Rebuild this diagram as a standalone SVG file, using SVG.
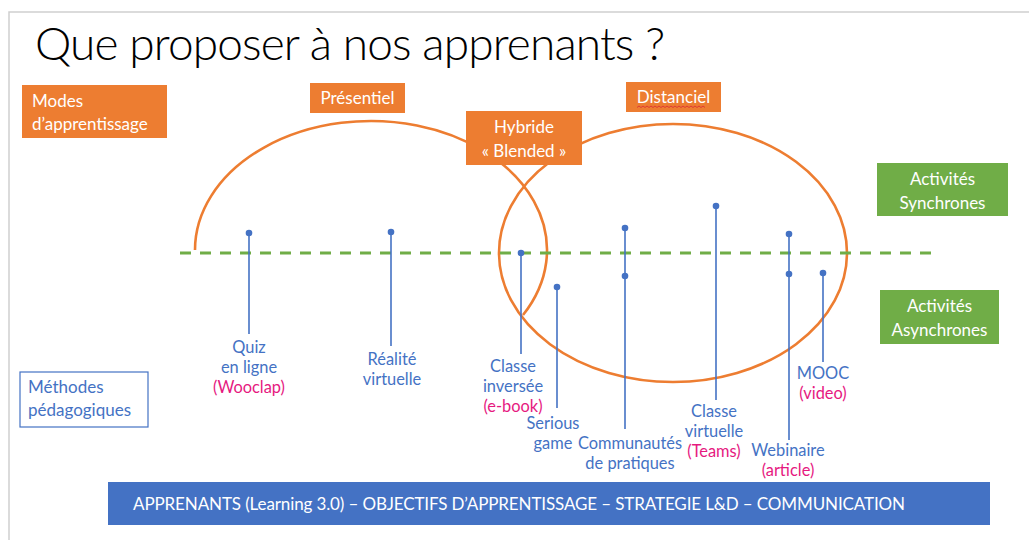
<svg xmlns="http://www.w3.org/2000/svg" width="1029" height="540" viewBox="0 0 1029 540">
  <style>
    text { font-family: Lato, "Liberation Sans", sans-serif; }
    .title { font-size: 46px; font-weight: 300; fill: #000; }
    .wbox { font-size: 17px; fill: #fff; }
    .org { fill: #ED7D31; }
    .grn { fill: #70AD47; }
    .lbl { font-size: 16.4px; fill: #4472C4; text-anchor: middle; }
    .pink { fill: #E6197F; }
    .pin { stroke: #4472C4; stroke-width: 1.6; fill: none; }
    .dot { fill: #4472C4; }
    .ell { stroke: #ED7D31; stroke-width: 2.6; fill: none; }
  </style>

  <rect x="0" y="0" width="1029" height="540" fill="#fff"/>
  <!-- slide frame -->
  <path d="M9 540 V12 H1029" fill="none" stroke="#cfcfcf" stroke-width="1.5"/>

  <text class="title" x="35" y="60" textLength="630">Que proposer à nos apprenants ?</text>

  <!-- ellipses -->
  <g id="ellipses">
    <path class="ell" d="M195 250 A176 129 0 1 1 523 315"/>
    <ellipse class="ell" cx="673" cy="253" rx="174" ry="129"/>
  </g>

  <!-- dashed sync/async boundary -->
  <line x1="180" y1="253" x2="940" y2="253" stroke="#70AD47" stroke-width="3" stroke-dasharray="11 9"/>

  <g id="modes">
    <rect class="org" x="22" y="85" width="145" height="53"/>
    <text class="wbox" x="32" y="107">Modes</text>
    <text class="wbox" x="32" y="130">d’apprentissage</text>
  </g>

  <g id="presentiel">
    <rect class="org" x="310" y="83" width="95" height="30"/>
    <text class="wbox" x="357.5" y="104" text-anchor="middle">Présentiel</text>
  </g>

  <g id="distanciel">
    <rect class="org" x="626" y="82" width="95" height="30"/>
    <text class="wbox" x="673.5" y="103" text-anchor="middle">Distanciel</text>
    <path d="M637 107.5 l2 -1.5 l2 1.5 l2 -1.5 l2 1.5 l2 -1.5 l2 1.5 l2 -1.5 l2 1.5 l2 -1.5 l2 1.5 l2 -1.5 l2 1.5 l2 -1.5 l2 1.5 l2 -1.5 l2 1.5 l2 -1.5 l2 1.5 l2 -1.5 l2 1.5 l2 -1.5 l2 1.5 l2 -1.5 l2 1.5 l2 -1.5 l2 1.5 l2 -1.5 l2 1.5 l2 -1.5 l2 1.5 l2 -1.5 l2 1.5 l2 -1.5 l2 1.5" fill="none" stroke="#d33" stroke-width="0.9"/>
  </g>

  <g id="hybride">
    <rect class="org" x="466" y="111" width="116" height="54"/>
    <text class="wbox" x="524" y="133" text-anchor="middle">Hybride</text>
    <text class="wbox" x="524" y="157" text-anchor="middle">« Blended »</text>
  </g>

  <g id="synchrones">
    <rect class="grn" x="877" y="163" width="131" height="53"/>
    <text class="wbox" x="942.5" y="185" text-anchor="middle">Activités</text>
    <text class="wbox" x="942.5" y="209" text-anchor="middle">Synchrones</text>
  </g>

  <g id="asynchrones">
    <rect class="grn" x="880" y="290" width="119" height="54"/>
    <text class="wbox" x="939.5" y="312" text-anchor="middle">Activités</text>
    <text class="wbox" x="939.5" y="336" text-anchor="middle">Asynchrones</text>
  </g>

  <g id="methodes">
    <rect x="20" y="372" width="128" height="55" fill="#fff" stroke="#4472C4" stroke-width="1.2"/>
    <text x="28" y="393" style="font-size:17px;fill:#4472C4">Méthodes</text>
    <text x="28" y="416" style="font-size:17px;fill:#4472C4">pédagogiques</text>
  </g>

  <!-- pins (connectors) -->
  <g id="connectors">
    <line class="pin" x1="249" y1="233" x2="249" y2="334"/>
    <line class="pin" x1="391" y1="232" x2="391" y2="346"/>
    <line class="pin" x1="521" y1="253" x2="521" y2="354"/>
    <line class="pin" x1="557" y1="287" x2="557" y2="408"/>
    <line class="pin" x1="625" y1="228" x2="625" y2="429"/>
    <line class="pin" x1="716" y1="206" x2="716" y2="400"/>
    <line class="pin" x1="789" y1="234" x2="789" y2="440"/>
    <line class="pin" x1="823" y1="273" x2="823" y2="362"/>
    <circle class="dot" cx="249" cy="233" r="3.3"/>
    <circle class="dot" cx="391" cy="232" r="3.3"/>
    <circle class="dot" cx="521" cy="253" r="3.3"/>
    <circle class="dot" cx="557" cy="287" r="3.3"/>
    <circle class="dot" cx="625" cy="228" r="3.3"/>
    <circle class="dot" cx="625" cy="276" r="3.3"/>
    <circle class="dot" cx="716" cy="206" r="3.3"/>
    <circle class="dot" cx="789" cy="234" r="3.3"/>
    <circle class="dot" cx="789" cy="274" r="3.3"/>
    <circle class="dot" cx="823" cy="273" r="3.3"/>
  </g>

  <g id="quiz">
    <text class="lbl" x="249" y="353">Quiz</text>
    <text class="lbl" x="249" y="373">en ligne</text>
    <text class="lbl pink" x="249" y="393">(Wooclap)</text>
  </g>
  <g id="realite">
    <text class="lbl" x="392" y="365">Réalité</text>
    <text class="lbl" x="392" y="385">virtuelle</text>
  </g>
  <g id="classe-inversee">
    <text class="lbl" x="513" y="372">Classe</text>
    <text class="lbl" x="513" y="392">inversée</text>
    <text class="lbl pink" x="513" y="412">(e-book)</text>
  </g>
  <g id="serious-game">
    <text class="lbl" x="553" y="429">Serious</text>
    <text class="lbl" x="553" y="449">game</text>
  </g>
  <g id="communautes">
    <text class="lbl" x="630" y="449">Communautés</text>
    <text class="lbl" x="630" y="469">de pratiques</text>
  </g>
  <g id="classe-virtuelle">
    <text class="lbl" x="714" y="417">Classe</text>
    <text class="lbl" x="714" y="437">virtuelle</text>
    <text class="lbl pink" x="714" y="457">(Teams)</text>
  </g>
  <g id="webinaire">
    <text class="lbl" x="788" y="456">Webinaire</text>
    <text class="lbl pink" x="788" y="476">(article)</text>
  </g>
  <g id="mooc">
    <text class="lbl" x="823" y="379">MOOC</text>
    <text class="lbl pink" x="823" y="399">(video)</text>
  </g>

  <g id="apprenants-bar">
    <rect x="108" y="482" width="882" height="43" fill="#4472C4"/>
    <text x="519" y="510" text-anchor="middle" textLength="772" style="font-size:17px;fill:#fff">APPRENANTS (Learning 3.0) – OBJECTIFS D’APPRENTISSAGE – STRATEGIE L&amp;D – COMMUNICATION</text>
  </g>
</svg>
